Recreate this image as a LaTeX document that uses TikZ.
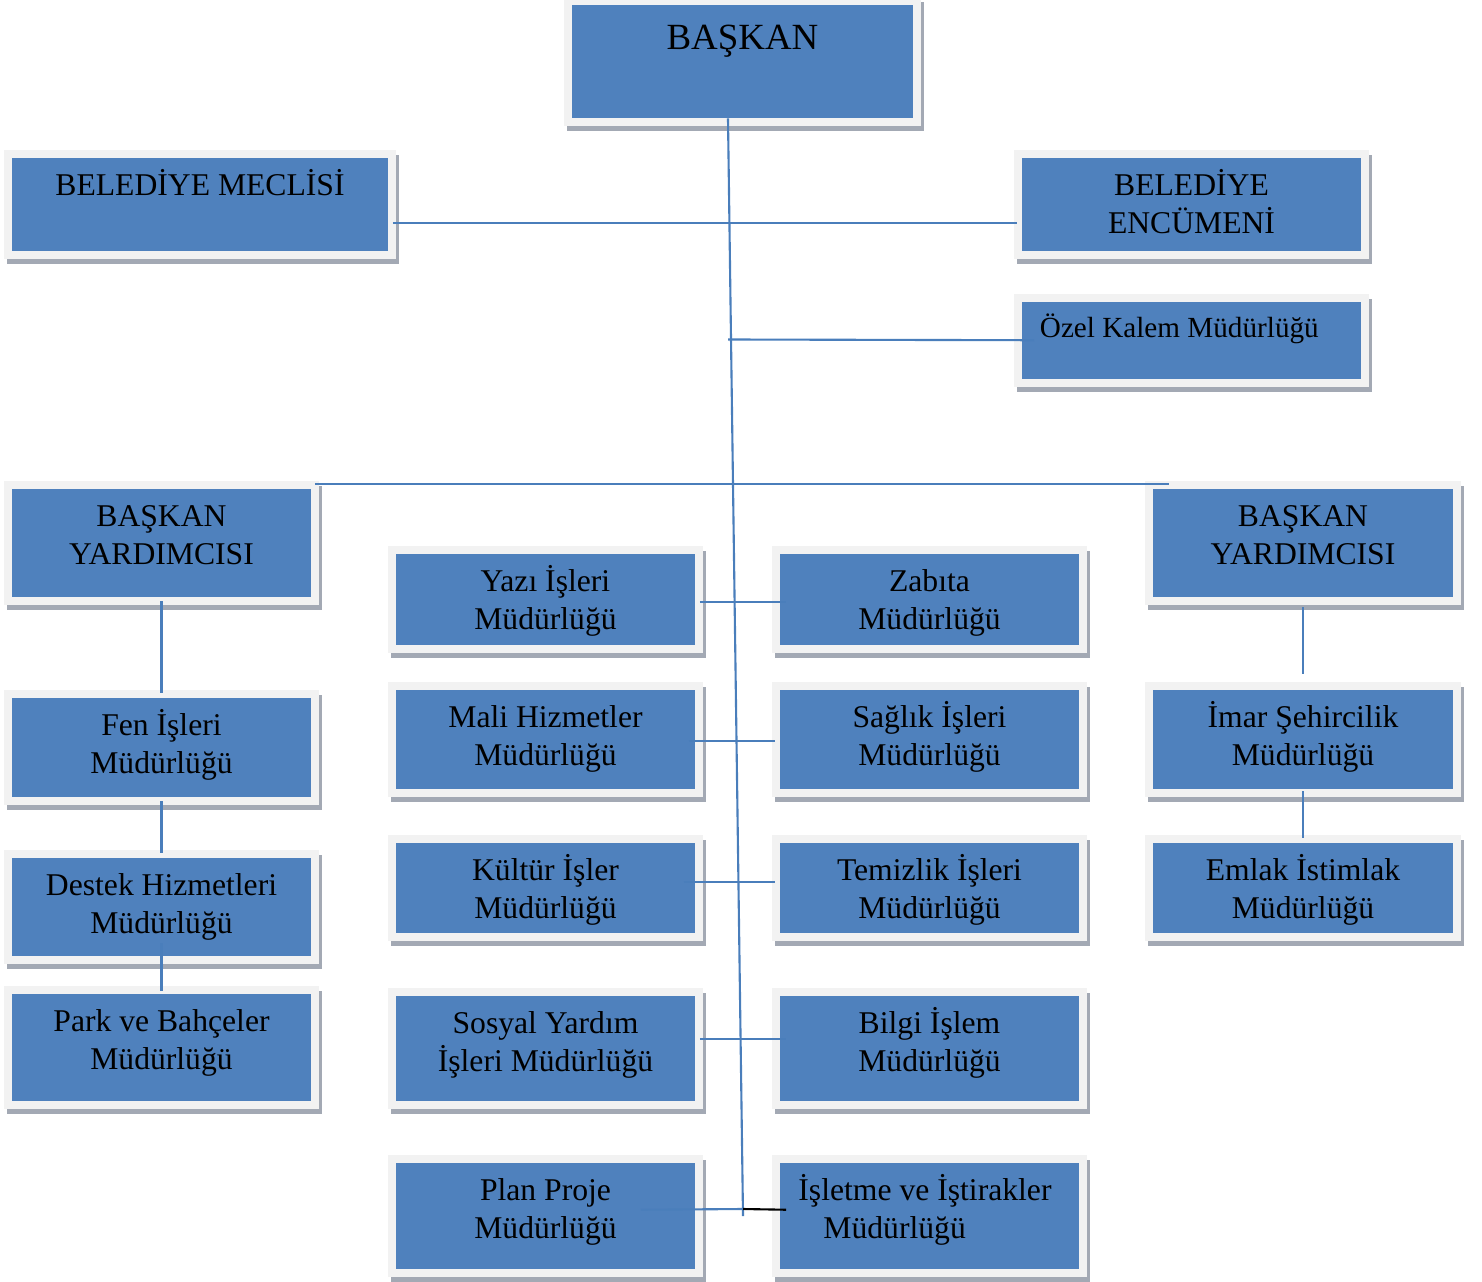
\documentclass[tikz,border=0pt]{standalone}
\usepackage{fontspec}
\setmainfont{Liberation Serif}
\usepackage{tikz}
\usetikzlibrary{calc,positioning}
\definecolor{kutumavi}{HTML}{4F81BD}
\definecolor{cerceve}{HTML}{F2F2F2}
\definecolor{golge}{HTML}{A3A9B4}
\definecolor{hatmavi}{HTML}{4A7EBB}

\begin{document}
\begin{tikzpicture}[x=0.01cm, y=-0.01cm]
\tikzset{kutu/.style={fill=kutumavi, anchor=north, inner sep=0pt, align=flush center,
    minimum width=2.99cm, text width=2.99cm, text height=0.375cm, text depth=#1,
    font=\fontsize{9}{10.8}\selectfont,
    preaction={draw=golge, line width=0.16cm, transform canvas={shift={(0.03cm,-0.05cm)}}},
    preaction={draw=cerceve, line width=0.16cm}}}
\tikzstyle{hat}=[draw=hatmavi, line width=0.6pt]
\useasboundingbox (0,0) rectangle (1482,1282);

\node[kutu=0.68cm, minimum width=3.41cm, text width=3.41cm, text height=0.45cm, font=\fontsize{10.5}{12.6}\selectfont] (baskan) at (742.5,4) {BAŞKAN};
\node[kutu=0.555cm, minimum width=3.76cm, text width=3.76cm] (meclis) at (200,157) {BELEDİYE MECLİSİ};
\node[kutu=0.555cm, minimum width=3.39cm, text width=3.39cm] (encumen) at (1191.5,157) {BELEDİYE\\ENCÜMENİ};
\node[kutu=0.41cm, minimum width=3.39cm, text width=3.03cm, align=flush left, text height=0.36cm, font=\fontsize{8.3}{10}\selectfont] (ozel) at (1191.5,301) {Özel Kalem Müdürlüğü};

\node[kutu=0.705cm] (byl) at (161.5,488) {BAŞKAN\\YARDIMCISI};
\node[kutu=0.705cm] (byr) at (1303,488) {BAŞKAN\\YARDIMCISI};

\node[kutu=0.615cm] (fen) at (161.5,697) {Fen İşleri\\Müdürlüğü};
\node[kutu=0.605cm] (destek) at (161.5,857) {Destek Hizmetleri\\Müdürlüğü};
\node[kutu=0.695cm] (park) at (161.5,993) {Park ve Bahçeler\\Müdürlüğü};

\node[kutu=0.535cm] (yazi) at (545.5,553) {Yazı İşleri\\Müdürlüğü};
\node[kutu=0.535cm] (zabita) at (929.5,553) {Zabıta\\Müdürlüğü};
\node[kutu=0.615cm] (mali) at (545.5,689) {Mali Hizmetler\\Müdürlüğü};
\node[kutu=0.615cm] (saglik) at (929.5,689) {Sağlık İşleri\\Müdürlüğü};
\node[kutu=0.525cm] (kultur) at (545.5,842) {Kültür İşler\\Müdürlüğü};
\node[kutu=0.525cm] (temizlik) at (929.5,842) {Temizlik İşleri\\Müdürlüğü};
\node[kutu=0.675cm] (sosyal) at (545.5,995) {Sosyal Yardım\\İşleri Müdürlüğü};
\node[kutu=0.675cm] (bilgi) at (929.5,995) {Bilgi İşlem\\Müdürlüğü};
\node[kutu=0.685cm] (plan) at (545.5,1162) {Plan Proje\\Müdürlüğü};
\node[kutu=0.685cm, align=flush left, text width=2.62cm] (isletme) at (929.5,1162) {İşletme ve İştirakler\\\hspace*{0.25cm}Müdürlüğü};

\node[kutu=0.615cm] (imar) at (1303,689) {İmar Şehircilik\\Müdürlüğü};
\node[kutu=0.525cm] (emlak) at (1303,842) {Emlak İstimlak\\Müdürlüğü};

\coordinate (alt) at (743,1216);
\coordinate (kose) at (743,1209);
\coordinate (ozelbag) at (728,339.5);

\draw[hat] ([xshift=-0.145cm]baskan.south) -- (alt);
\draw[hat] ([shift={(0.04cm,-0.185cm)}]meclis.east) -- ([shift={(-0.04cm,-0.185cm)}]encumen.west);
\draw[hat] (ozelbag) -- ([xshift=0.13cm]ozel.west);
\draw[hat] ([shift={(0.03cm,0.04cm)}]byl.north east) -- ([shift={(0.16cm,0.04cm)}]byr.north west);

\draw[hat] ([yshift=-0.04cm]byl.south) -- ([yshift=0.04cm]fen.north);
\draw[hat] ([yshift=-0.04cm]fen.south) -- ([yshift=0.04cm]destek.north);
\draw[hat] ([yshift=0.13cm]destek.south) -- ([yshift=0.02cm]park.north);
\draw[hat] ([yshift=-0.1cm]byr.south) -- ([yshift=0.15cm]imar.north);
\draw[hat] ([yshift=-0.02cm]imar.south) -- ([yshift=0.04cm]emlak.north);

\draw[hat] ([shift={(0.04cm,-0.025cm)}]yazi.east) -- ([shift={(0.07cm,-0.025cm)}]zabita.west);
\draw[hat] ([shift={(-0.07cm,-0.015cm)}]mali.east) -- ([shift={(-0.04cm,-0.015cm)}]saglik.west);
\draw[hat] ([shift={(-0.12cm,0.06cm)}]kultur.east) -- ([shift={(-0.04cm,0.06cm)}]temizlik.west);
\draw[hat] ([shift={(0.04cm,0.095cm)}]sosyal.east) -- ([shift={(0.07cm,0.095cm)}]bilgi.west);
\draw[hat] ([shift={(-0.55cm,0.06cm)}]plan.east) -- (kose);
\draw[black, line width=0.6pt] (kose) -- ([shift={(0.07cm,0.06cm)}]isletme.west);
\end{tikzpicture}
\end{document}
